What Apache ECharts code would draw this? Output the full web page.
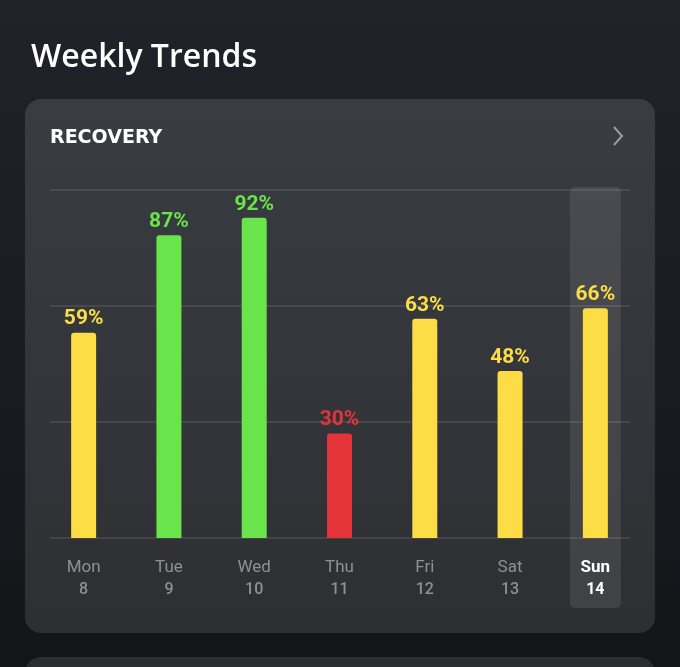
<!DOCTYPE html>
<html>
<head>
<meta charset="utf-8">
<script src="https://cdn.jsdelivr.net/npm/echarts@6/dist/echarts.min.js"></script>
<style>
  html, body { margin: 0; padding: 0; background: #191b20; }
  #chart { width: 680px; height: 667px; }
</style>
</head>
<body>
<div id="chart"></div>
<script>
var days = ['Mon', 'Tue', 'Wed', 'Thu', 'Fri', 'Sat', 'Sun'];
var dates = ['8', '9', '10', '11', '12', '13', '14'];
var recovery = [59, 87, 92, 30, 63, 48, 66];
var selectedDay = 6;

function recoveryColor(v) {
	if (v >= 67) return '#69e44b';
	if (v >= 34) return '#fcdd45';
	return '#e5333a';
}

var chart = echarts.init(document.getElementById('chart'));

var option = {
	backgroundColor: new echarts.graphic.LinearGradient(0, 0, 0, 1, [
		{ offset: 0, color: '#20232a' },
		{ offset: 1, color: '#131519' }
	]),
	animation: false,
	title: {
		text: 'Weekly Trends',
		left: 31,
		top: 42,
		padding: 0,
		textStyle: {
			color: '#ffffff',
			fontSize: 32,
			fontWeight: 600,
			fontFamily: 'Open Sans'
		}
	},
	grid: [
		{ left: 41, right: 42, top: 190, bottom: 129 },
		{ left: 50, right: 50, top: 190, bottom: 129 }
	],
	xAxis: [{
		type: 'category',
		gridIndex: 0,
		data: days,
		axisLine: { show: false },
		axisTick: { show: false },
		axisLabel: {
			margin: 18,
			formatter: function(val, i) {
				if (i === selectedDay) return '{ds|' + val + '}\n{ns|' + dates[i] + '}';
				return '{d|' + val + '}\n{n|' + dates[i] + '}';
			},
			rich: {
				d: { color: '#8e9094', fontSize: 17, lineHeight: 23, fontFamily: 'Roboto' },
				n: { color: '#8e9094', fontSize: 16, lineHeight: 22, fontWeight: 500, fontFamily: 'Roboto' },
				ds: { color: '#ffffff', fontSize: 17, lineHeight: 23, fontWeight: 'bold', fontFamily: 'Roboto' },
				ns: { color: '#ffffff', fontSize: 16, lineHeight: 22, fontWeight: 'bold', fontFamily: 'Roboto' }
			}
		}
	}, {
		type: 'category',
		gridIndex: 1,
		data: days,
		show: false
	}],
	yAxis: [{
		type: 'value',
		gridIndex: 0,
		min: 0,
		max: 100,
		show: false
	}, {
		type: 'value',
		gridIndex: 1,
		min: 0,
		max: 100,
		interval: 100 / 3,
		axisLine: { show: false },
		axisTick: { show: false },
		axisLabel: { show: false },
		splitLine: {
			lineStyle: { color: 'rgba(255,255,255,0.13)', width: 1.5 }
		}
	}],
	series: [{
		name: 'Recovery',
		type: 'bar',
		xAxisIndex: 0,
		yAxisIndex: 0,
		barWidth: 25,
		z: 5,
		data: recovery.map(function(v) {
			return {
				value: v,
				itemStyle: { color: recoveryColor(v) },
				label: { color: recoveryColor(v) }
			};
		}),
		itemStyle: { borderRadius: [3, 3, 0, 0] },
		label: {
			show: true,
			position: 'top',
			distance: 3,
			formatter: '{c}%',
			fontSize: 21,
			fontWeight: 'bold',
			fontFamily: 'Roboto'
		}
	}]
};
chart.setOption(option);

// decorations: card, chevron, highlight behind the selected day
var cx = chart.convertToPixel({ xAxisIndex: 0 }, days[selectedDay]);
var topY = chart.convertToPixel({ yAxisIndex: 0 }, 100);
var baseY = chart.convertToPixel({ yAxisIndex: 0 }, 0);

chart.setOption({
	graphic: [{
		type: 'rect',
		z: -10,
		shape: { x: 25, y: 99, width: 630, height: 534, r: 16 },
		style: {
			fill: new echarts.graphic.LinearGradient(0, 0, 0, 1, [
				{ offset: 0, color: '#393c41' },
				{ offset: 1, color: '#2d2f33' }
			])
		},
		silent: true
	}, {
		type: 'rect',
		z: -10,
		shape: { x: 25, y: 657, width: 630, height: 60, r: 16 },
		style: { fill: '#2b2d31' },
		silent: true
	}, {
		type: 'text',
		z: -5,
		left: 50,
		top: 129,
		style: {
			text: 'RECOVERY',
			fill: '#ffffff',
			font: 'bold 19px "DejaVu Sans"'
		}
	}, {
		type: 'polyline',
		z: -5,
		shape: { points: [[614, 127], [622, 136], [614, 145]] },
		style: { stroke: '#9a9ca0', lineWidth: 2, fill: null }
	}, {
		type: 'rect',
		z: -4,
		shape: { x: cx - 25.5, y: topY - 3, width: 51, height: baseY - topY + 73, r: 5 },
		style: { fill: 'rgba(255,255,255,0.09)' },
		silent: true
	}]
});
</script>
</body>
</html>
